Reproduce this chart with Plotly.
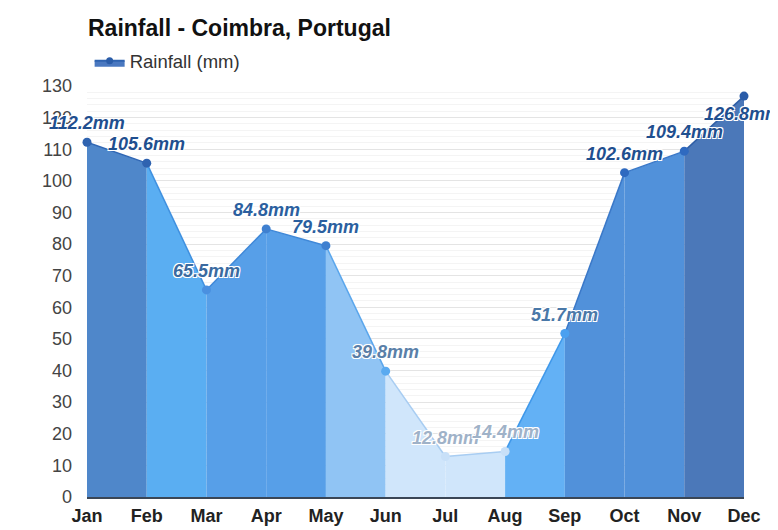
import plotly.graph_objects as go

months = ["Jan", "Feb", "Mar", "Apr", "May", "Jun", "Jul", "Aug", "Sep", "Oct", "Nov", "Dec"]
rainfall = [112.2, 105.6, 65.5, 84.8, 79.5, 39.8, 12.8, 14.4, 51.7, 102.6, 109.4, 126.8]
labels = [f"{v}mm" for v in rainfall]

seg_colors = ["#4f87ca", "#5aaef2", "#579fe8", "#579fe8", "#90c4f4", "#d0e6fb",
              "#d0e6fb", "#63b1f5", "#5191da", "#5191da", "#4b78b9"]
seg_lines = ["#2f66b4", "#3f90e0", "#3f88d8", "#3f88d8", "#5aa6ec", "#a8cdf2",
             "#a8cdf2", "#3f98ea", "#3a78c8", "#3a78c8", "#2f5ea6"]
marker_colors = ["#2f63b0", "#2f63b0", "#4a90e0", "#3f80d0", "#3f80d0", "#5aaaf0",
                 "#c8e0f8", "#c8e0f8", "#4aa0f0", "#2f6ac0", "#2f6ac0", "#2a5ca8"]
label_colors = ["#1f4f8f", "#1f4f8f", "#3a6aa0", "#2b5f9f", "#2b5f9f", "#5a7fa8",
                "#9fb2c8", "#9fb2c8", "#4a78a8", "#1f4f8f", "#1f4f8f", "#1f4f8f"]

x = list(range(len(months)))
fig = go.Figure()

for i in range(len(months) - 1):
    fig.add_trace(go.Scatter(
        x=[x[i], x[i + 1], x[i + 1], x[i]],
        y=[rainfall[i], rainfall[i + 1], 0, 0],
        fill="toself", fillcolor=seg_colors[i], mode="none",
        showlegend=False, hoverinfo="skip"))
    fig.add_trace(go.Scatter(
        x=[x[i], x[i + 1]], y=[rainfall[i], rainfall[i + 1]],
        mode="lines", line=dict(color=seg_lines[i], width=1.5),
        showlegend=False, hoverinfo="skip", cliponaxis=False))

fig.add_trace(go.Scatter(
    x=x, y=rainfall, mode="markers",
    marker=dict(size=9, color=marker_colors),
    showlegend=False, cliponaxis=False))

# legend entry
fig.add_trace(go.Scatter(
    x=[None], y=[None], mode="lines+markers", fill="toself",
    fillcolor="#4a78c0", line=dict(color="#2f63b0", width=2),
    marker=dict(size=7, color="#2a5ca8"), name="Rainfall (mm)"))

shadow = "-1px -1px 0 #fff, 1px -1px 0 #fff, -1px 1px 0 #fff, 1px 1px 0 #fff"
for i, (m, v, t) in enumerate(zip(x, rainfall, labels)):
    xs, ys = 0, 19
    if i == len(months) - 1:
        xs, ys = -2, -18
    fig.add_annotation(
        x=m, y=v, text=t, showarrow=False, xshift=xs, yshift=ys,
        font=dict(family="Liberation Sans, Arial, sans-serif", size=18,
                  color=label_colors[i], weight="bold", style="italic",
                  shadow=shadow))

fig.update_layout(
    width=778, height=530,
    margin=dict(l=79, r=42, t=78, b=41),
    paper_bgcolor="white", plot_bgcolor="white",
    font=dict(family="Liberation Sans, Arial, sans-serif", color="#333"),
    title=dict(text="<b>Rainfall - Coimbra, Portugal</b>", x=80 / 778, xanchor="left",
               xref="container", y=1 - 20 / 530, yanchor="middle", yref="container",
               font=dict(size=23, color="#111")),
    legend=dict(orientation="h", x=0.004, xanchor="left", y=1.06, yanchor="middle",
                font=dict(size=18.5, color="#333"), bgcolor="rgba(0,0,0,0)",
                itemwidth=30),
    xaxis=dict(range=[0, 11], tickvals=x, ticktext=[f"<b>{m}</b>" for m in months],
               showgrid=False, showline=True, linecolor="#3a4656", linewidth=1.5,
               tickfont=dict(size=18, color="#222"), ticks="", zeroline=False,
               ticklabelstandoff=2),
    yaxis=dict(range=[0, 130], dtick=10, showgrid=True, gridcolor="#e4e4e4",
               minor=dict(dtick=2, showgrid=True, gridcolor="#f4f4f4"),
               zeroline=False, tickfont=dict(size=18, color="#444"),
               ticklabelstandoff=14),
)

fig.write_html("out.html")
